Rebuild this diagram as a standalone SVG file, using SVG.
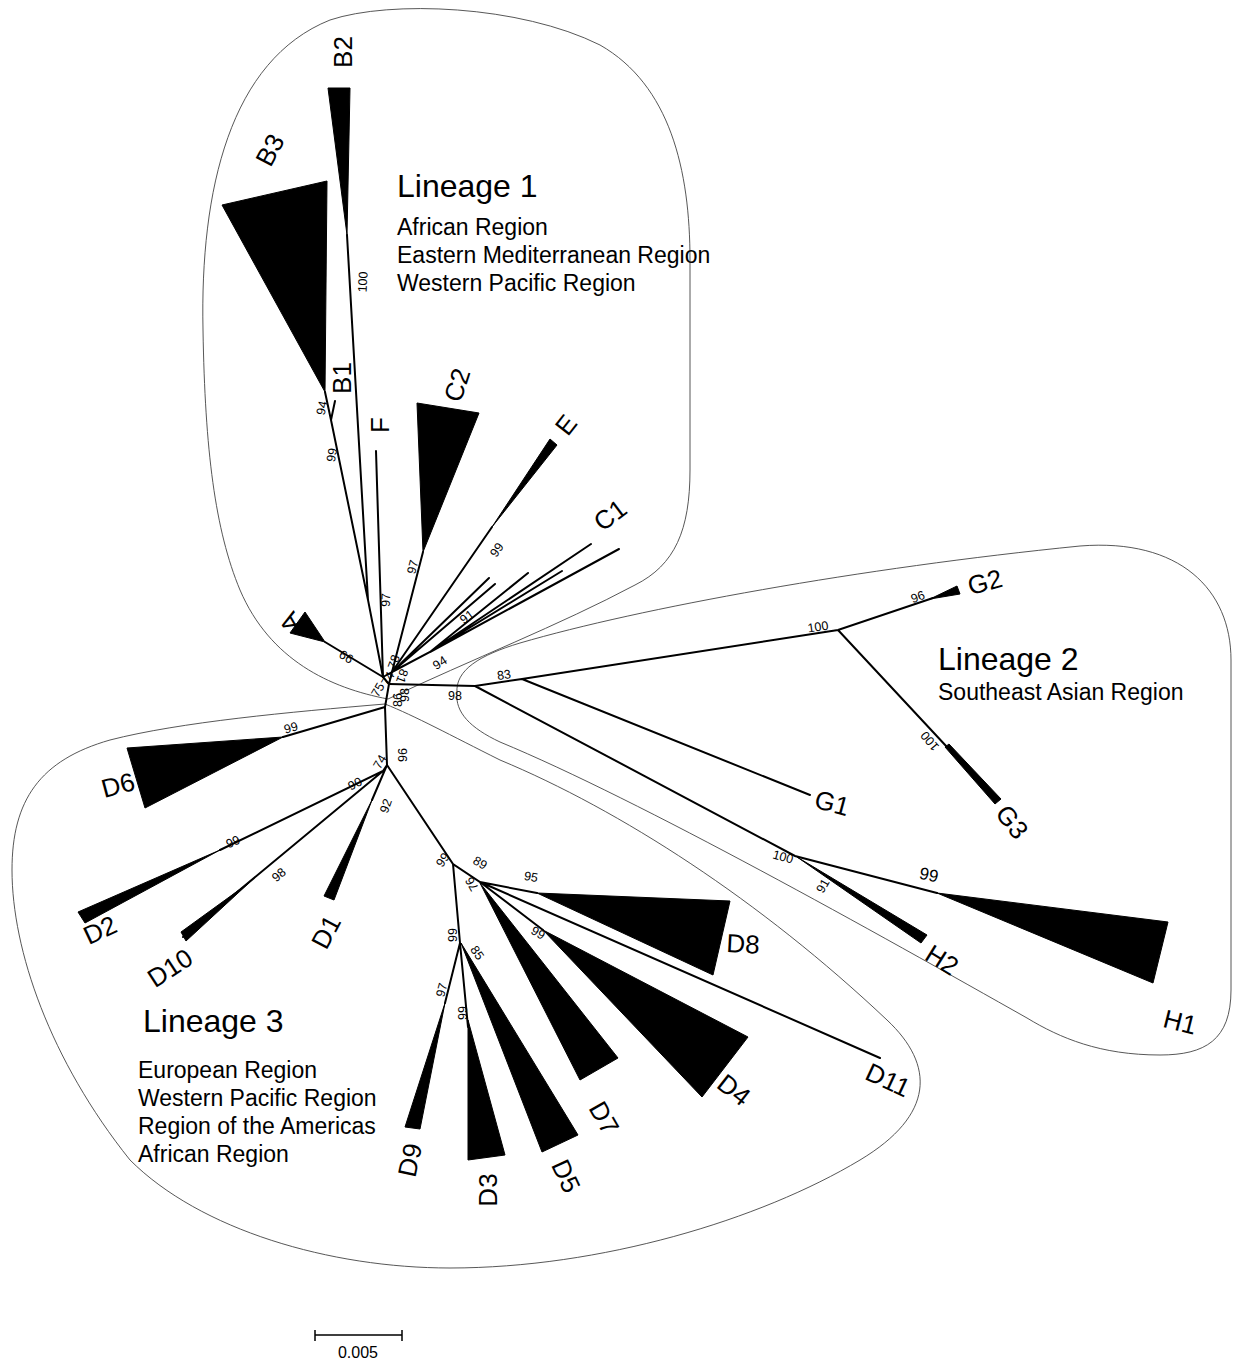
<svg xmlns="http://www.w3.org/2000/svg" width="1233" height="1363" viewBox="0 0 1233 1363">
<style>
text{font-family:"Liberation Sans",Arial,sans-serif;fill:#000}
.br{stroke:#000;stroke-width:2;fill:none;stroke-linecap:round}
.cl{fill:#000;stroke:#000;stroke-width:1;stroke-linejoin:round}
.ol{fill:none;stroke:#444;stroke-width:0.9}
.lb{font-size:26px;text-anchor:middle;dominant-baseline:central}
.bs{font-size:12.5px;text-anchor:middle;dominant-baseline:central}
.lin{font-size:32px}
.reg{font-size:23px}
</style>
<rect width="1233" height="1363" fill="#fff"/>
<g id="outlines">
<path id="outline-lineage1" class="ol" d="M388,699 C330,688 270,660 240,590 C215,530 205,450 203,330 C200,190 230,60 330,20 C390,0 520,5 600,45 C670,85 690,170 690,260 L690,470 C690,530 675,565 635,585 C560,625 470,660 388,699 Z"/>
<path id="outline-lineage2" class="ol" d="M457,693 C455,670 480,655 520,643 C640,608 860,568 1080,546 C1180,538 1231,590 1231,660 L1231,990 C1231,1040 1205,1055 1160,1055 C1100,1055 1060,1038 1027,1018 C880,935 640,800 500,742 C470,728 455,712 457,693 Z"/>
<path id="outline-lineage3" class="ol" d="M385,704 C290,712 180,722 110,740 C40,760 12,800 12,870 C12,950 50,1060 130,1160 C200,1230 330,1268 450,1268 C600,1268 760,1220 860,1160 C935,1115 935,1065 887,1020 C760,900 620,810 500,760 C450,735 415,716 385,704 Z"/>
</g>
<g id="connectors">
<path class="br" d="M383,677 L389,684 L385,707 M389,684 L392,672 M383,677 L392,672"/>
<path class="br" d="M383,677 L325,642"/>
<path class="br" d="M383,677 L368,600 L347,235 M368,600 L331,420 L325,392 M331,420 L335,401"/>
<path class="br" d="M383,677 L376,451"/>
<path class="br" d="M392,672 L423,552"/>
<path class="br" d="M392,672 L492,527"/>
<path class="br" d="M392,672 L489,578 M392,672 L495,584 M392,672 L430,652 L528,573 M430,652 L562,571 M430,652 L591,544 M430,652 L619,549"/>
<path class="br" d="M389,684 L475,686 L522,679 L838,630 L933,598 M522,679 L810,795 M838,630 L947,747 M475,686 L795,856 L937,893"/>
<path class="br" d="M385,707 L283,737 M385,707 L387,765 L383,771 L220,850 M383,771 L183,937 M387,765 L372,800 M387,765 L453,864 L480,882 L537,893 M480,882 L880,1058 M480,882 L543,930 M453,864 L460,943 L445,1003 M460,943 L468,1027"/>
</g>
<g id="clades">
<g id="B2"><polygon class="cl" points="328,88 350,88 347,235"/><text class="lb" transform="translate(343,52) rotate(-90)">B2</text></g>
<g id="B3"><polygon class="cl" points="222,205 327,181 325,392"/><text class="lb" transform="translate(270,150) rotate(-62)">B3</text></g>
<g id="B1"><text class="lb" transform="translate(342,378) rotate(-90)">B1</text></g>
<g id="F"><text class="lb" transform="translate(380,425) rotate(-90)">F</text></g>
<g id="C2"><polygon class="cl" points="417,403 479,413 423,552"/><text class="lb" transform="translate(457,385) rotate(-72)">C2</text></g>
<g id="E"><polygon class="cl" points="492,527 550,439 557,445"/><text class="lb" transform="translate(566,425) rotate(-52)">E</text></g>
<g id="C1"><text class="lb" transform="translate(610,515) rotate(-37)">C1</text></g>
<g id="A"><polygon class="cl" points="325,642 305,612 290,633"/><text class="lb" transform="translate(290,622) rotate(-120)">A</text></g>
<g id="G2"><polygon class="cl" points="930,599 957,586 960,594"/><text class="lb" transform="translate(985,582) rotate(-15)">G2</text></g>
<g id="G1"><text class="lb" transform="translate(832,803) rotate(15)">G1</text></g>
<g id="G3"><polygon class="cl" points="945,747 949,744 1001,799 995,804"/><text class="lb" transform="translate(1012,822) rotate(52)">G3</text></g>
<g id="H2"><polygon class="cl" points="797,857 927,935 921,943"/><text class="lb" transform="translate(942,960) rotate(32)">H2</text></g>
<g id="H1"><polygon class="cl" points="937,893 1168,922 1153,983"/><text class="lb" transform="translate(1180,1022) rotate(14)">H1</text></g>
<g id="D6"><polygon class="cl" points="283,737 127,748 145,808"/><text class="lb" transform="translate(118,785) rotate(-15)">D6</text></g>
<g id="D2"><polygon class="cl" points="220,850 78,912 85,923"/><text class="lb" transform="translate(100,930) rotate(-25)">D2</text></g>
<g id="D10"><polygon class="cl" points="250,882 181,932 186,941"/><text class="lb" transform="translate(170,968) rotate(-33)">D10</text></g>
<g id="D1"><polygon class="cl" points="372,800 324,896 334,900"/><text class="lb" transform="translate(326,932) rotate(-62)">D1</text></g>
<g id="D8"><polygon class="cl" points="537,893 730,901 713,975"/><text class="lb" transform="translate(743,944) rotate(3)">D8</text></g>
<g id="D11"><text class="lb" transform="translate(888,1080) rotate(25)">D11</text></g>
<g id="D4"><polygon class="cl" points="543,930 748,1037 702,1097"/><text class="lb" transform="translate(734,1090) rotate(38)">D4</text></g>
<g id="D7"><polygon class="cl" points="480,883 618,1058 580,1080"/><text class="lb" transform="translate(604,1118) rotate(60)">D7</text></g>
<g id="D5"><polygon class="cl" points="461,943 578,1135 542,1152"/><text class="lb" transform="translate(566,1176) rotate(65)">D5</text></g>
<g id="D3"><polygon class="cl" points="468,1020 468,1160 505,1155"/><text class="lb" transform="translate(488,1190) rotate(-90)">D3</text></g>
<g id="D9"><polygon class="cl" points="445,1003 405,1127 420,1129"/><text class="lb" transform="translate(410,1160) rotate(-78)">D9</text></g>
</g>
<g id="bootstrap">
<text class="bs" transform="translate(363,282) rotate(-87)">100</text>
<text class="bs" transform="translate(332,455) rotate(-80)">99</text>
<text class="bs" transform="translate(322,408) rotate(-78)">94</text>
<text class="bs" transform="translate(386,600) rotate(-88)">97</text>
<text class="bs" transform="translate(413,567) rotate(-75)">97</text>
<text class="bs" transform="translate(497,550) rotate(-55)">99</text>
<text class="bs" transform="translate(467,617) rotate(-37)">91</text>
<text class="bs" transform="translate(440,663) rotate(-33)">94</text>
<text class="bs" transform="translate(394,662) rotate(-70)">78</text>
<text class="bs" transform="translate(346,657) rotate(31)">66</text>
<text class="bs" transform="translate(378,690) rotate(-60)">75</text>
<text class="bs" transform="translate(388,679) rotate(-60)">74</text>
<text class="bs" transform="translate(402,676) rotate(110)">81</text>
<text class="bs" transform="translate(398,700) rotate(-90)">86</text>
<text class="bs" transform="translate(405,695) rotate(-90)">98</text>
<text class="bs" transform="translate(504,675) rotate(-8)">83</text>
<text class="bs" transform="translate(455,696)">98</text>
<text class="bs" transform="translate(818,627) rotate(-8)">100</text>
<text class="bs" transform="translate(918,597) rotate(-20)">96</text>
<text class="bs" transform="translate(930,741) rotate(230)">100</text>
<text class="bs" transform="translate(783,857) rotate(15)">100</text>
<text class="bs" transform="translate(823,886) rotate(-60)">91</text>
<text class="bs" style="font-size:17px" transform="translate(929,875) rotate(12)">99</text>
<text class="bs" transform="translate(291,728) rotate(-15)">99</text>
<text class="bs" transform="translate(380,762) rotate(-60)">74</text>
<text class="bs" transform="translate(403,755) rotate(-90)">96</text>
<text class="bs" transform="translate(355,784) rotate(-28)">90</text>
<text class="bs" transform="translate(233,842) rotate(-25)">99</text>
<text class="bs" transform="translate(279,875) rotate(-40)">98</text>
<text class="bs" transform="translate(386,806) rotate(-70)">92</text>
<text class="bs" transform="translate(443,860) rotate(-55)">99</text>
<text class="bs" transform="translate(480,863) rotate(30)">89</text>
<text class="bs" transform="translate(472,884) rotate(240)">76</text>
<text class="bs" transform="translate(531,877) rotate(10)">95</text>
<text class="bs" transform="translate(538,933) rotate(30)">99</text>
<text class="bs" transform="translate(453,935) rotate(-90)">99</text>
<text class="bs" transform="translate(477,953) rotate(55)">85</text>
<text class="bs" transform="translate(442,990) rotate(-75)">97</text>
<text class="bs" transform="translate(463,1013) rotate(-90)">99</text>
</g>
<g id="lineage-text">
<text class="lin" x="397" y="197">Lineage 1</text>
<text class="reg" x="397" y="235">African Region</text>
<text class="reg" x="397" y="263">Eastern Mediterranean Region</text>
<text class="reg" x="397" y="291">Western Pacific Region</text>
<text class="lin" x="938" y="670">Lineage 2</text>
<text class="reg" x="938" y="700">Southeast Asian Region</text>
<text class="lin" x="143" y="1032">Lineage 3</text>
<text class="reg" x="138" y="1078">European Region</text>
<text class="reg" x="138" y="1106">Western Pacific Region</text>
<text class="reg" x="138" y="1134">Region of the Americas</text>
<text class="reg" x="138" y="1162">African Region</text>
</g>
<g id="scale-bar">
<path d="M315,1335 L402,1335 M315,1330 L315,1341 M402,1330 L402,1341" stroke="#000" stroke-width="1.5" fill="none"/>
<text x="358" y="1358" style="font-size:16px" text-anchor="middle">0.005</text>
</g>
</svg>
